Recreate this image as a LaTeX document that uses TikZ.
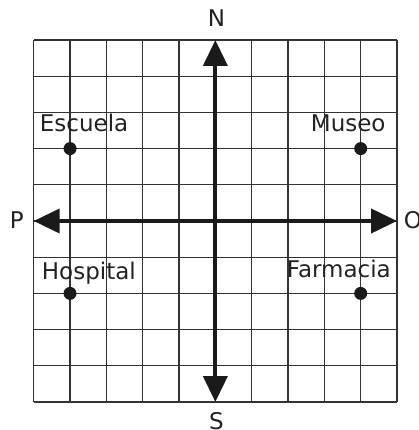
\documentclass[tikz,border=0pt]{standalone}
\usepackage{fontspec}
\setmainfont{DejaVu Sans}
\usetikzlibrary{arrows.meta}
\definecolor{gridcol}{HTML}{333333}
\definecolor{axiscol}{HTML}{1A1A1A}
\definecolor{txtcol}{HTML}{222222}
\tikzset{
  gridline/.style={draw=gridcol, line width=1.3pt},
  axisline/.style={draw=axiscol, line width=4pt,
    {Triangle[length=26pt,width=24pt]}-{Triangle[length=26pt,width=24pt]}},
  place/.style={circle, fill=axiscol, inner sep=0pt, minimum size=13pt},
  lbl/.style={inner sep=0pt, text=txtcol, font=\fontsize{23}{23}\selectfont},
}
\begin{document}
\begin{tikzpicture}[x=1pt, y=-1pt]
\useasboundingbox (0,0) rectangle (418,430);
% grid
\foreach \i in {0,...,10} {
  \draw[gridline] ({33.7+36.33*\i},40) -- ({33.7+36.33*\i},402);
  \draw[gridline] (33.7,{40+36.2*\i}) -- (397,{40+36.2*\i});
}
% axes
\coordinate (ntip) at (215.35,40);
\coordinate (stip) at (215.35,402);
\coordinate (wtip) at (33.7,221);
\coordinate (etip) at (397,221);
\draw[axisline] (stip) -- (ntip);
\draw[axisline] (wtip) -- (etip);
% places
\node[place] (escueladot) at (70.03,148.6) {};
\node[place] (museodot) at (360.7,148.6) {};
\node[place] (hospitaldot) at (70.03,293.4) {};
\node[place] (farmaciadot) at (360.7,293.4) {};
% labels
\node[lbl, anchor=base west] (escuela) at (39.7,132) {Escuela};
\node[lbl, anchor=base west] (museo) at (310.7,132) {Museo};
\node[lbl, anchor=base west] (hospital) at (41.7,279) {Hospital};
\node[lbl, anchor=base west] (farmacia) at (286.7,277) {Farmacia};
\node[lbl, anchor=base] (n) at (216.5,27) {N};
\node[lbl, anchor=base] (s) at (216.5,429.5) {S};
\node[lbl, anchor=base west] (p) at (9.7,228) {P};
\node[lbl, anchor=base west] (o) at (403.7,228) {O};
\end{tikzpicture}
\end{document}
